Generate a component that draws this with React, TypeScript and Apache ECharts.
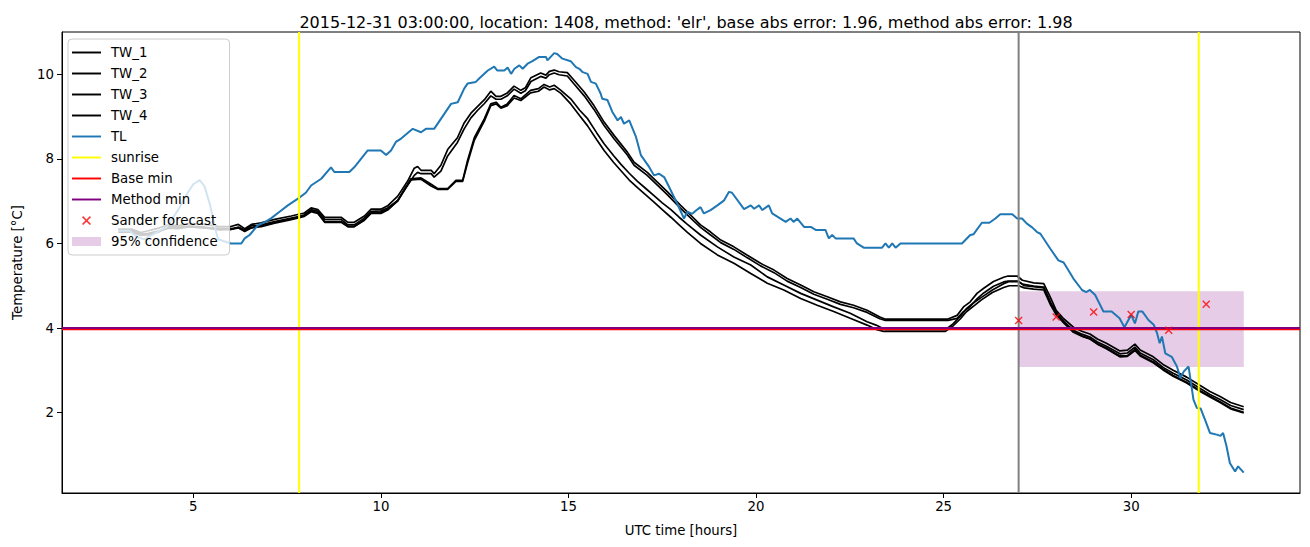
import React, { useEffect, useRef } from "react";
import * as echarts from "echarts";

const TITLE = "2015-12-31 03:00:00, location: 1408, method: 'elr', base abs error: 1.96, method abs error: 1.98";
const X_MIN = 1.5;
const X_MAX = 34.5;
const Y_MIN = 0.1;
const Y_MAX = 11.0;
const xTicks = [5, 10, 15, 20, 25, 30];
const yTicks = [2, 4, 6, 8, 10];

const TL: number[][] = [
  [3.0,6.3],[3.3,6.3],[3.5,6.15],[3.7,6.1],[4.0,6.25],[4.3,6.4],[4.6,6.8],[4.85,7.2],[5.0,7.4],[5.17,7.5],[5.3,7.35],[5.45,6.9],[5.57,6.4],[5.66,6.1],[6.0,6.0],[6.28,6.0],[6.37,6.12],[6.5,6.2],[6.72,6.43],[6.9,6.5],[7.08,6.6],[7.3,6.75],[7.52,6.9],[7.79,7.06],[8.0,7.2],[8.14,7.37],[8.41,7.53],[8.67,7.8],[8.76,7.69],[9.16,7.69],[9.29,7.8],[9.65,8.2],[10.0,8.2],[10.14,8.09],[10.27,8.2],[10.4,8.4],[10.54,8.48],[10.85,8.71],[11.07,8.63],[11.2,8.71],[11.42,8.71],[11.87,9.3],[12.05,9.34],[12.22,9.66],[12.31,9.78],[12.53,9.82],[12.62,9.9],[12.85,10.09],[13.02,10.18],[13.1,10.09],[13.29,10.09],[13.38,10.16],[13.47,10.01],[13.56,10.13],[13.69,10.21],[13.78,10.13],[13.91,10.25],[14.04,10.31],[14.22,10.41],[14.4,10.41],[14.44,10.33],[14.62,10.5],[14.7,10.48],[14.84,10.37],[15.06,10.31],[15.2,10.17],[15.29,10.13],[15.38,10.05],[15.51,10.01],[15.6,9.82],[15.73,9.78],[15.86,9.54],[15.9,9.42],[16.04,9.39],[16.17,9.11],[16.31,8.91],[16.4,8.99],[16.48,8.83],[16.62,8.91],[16.8,8.52],[16.93,8.09],[17.15,7.81],[17.28,7.61],[17.41,7.65],[17.55,7.57],[17.68,7.34],[17.9,6.94],[18.08,6.59],[18.17,6.75],[18.3,6.7],[18.4,6.78],[18.52,6.86],[18.61,6.71],[18.79,6.79],[18.97,6.9],[19.15,7.02],[19.28,7.22],[19.36,7.2],[19.68,6.81],[19.86,6.9],[19.95,6.82],[20.08,6.9],[20.17,6.79],[20.34,6.9],[20.43,6.71],[20.61,6.61],[20.79,6.51],[20.92,6.59],[21.0,6.51],[21.1,6.59],[21.28,6.39],[21.46,6.39],[21.59,6.32],[21.85,6.32],[21.94,6.12],[22.03,6.2],[22.12,6.12],[22.6,6.12],[22.69,6.0],[22.87,5.9],[23.36,5.9],[23.45,6.0],[23.54,5.9],[23.63,6.0],[23.72,5.9],[23.85,6.0],[25.49,6.0],[25.71,6.2],[25.8,6.22],[26.02,6.49],[26.22,6.49],[26.38,6.59],[26.51,6.69],[26.83,6.69],[26.96,6.59],[27.09,6.59],[27.22,6.47],[27.36,6.38],[27.49,6.27],[27.58,6.23],[27.84,5.88],[28.06,5.6],[28.2,5.55],[28.46,5.17],[28.69,4.9],[28.8,4.85],[28.9,4.9],[29.04,4.78],[29.26,4.39],[29.48,4.39],[29.69,4.23],[29.82,4.02],[30.0,4.31],[30.1,4.11],[30.19,4.39],[30.3,4.39],[30.46,4.19],[30.6,4.08],[30.69,3.88],[30.76,3.64],[30.82,3.8],[30.91,3.4],[31.08,3.32],[31.22,3.09],[31.31,2.82],[31.4,2.97],[31.53,3.09],[31.66,2.31],[31.75,2.11],[31.85,2.1],[31.97,1.83],[32.1,1.52],[32.28,1.48],[32.38,1.45],[32.45,1.52],[32.54,1.21],[32.63,0.81],[32.77,0.61],[32.85,0.73],[33.0,0.58]
];

const TW_1: number[][] = [
  [3.0,6.34],[3.35,6.34],[3.6,6.26],[3.8,6.3],[4.1,6.37],[4.33,6.44],[4.6,6.42],[4.9,6.47],[5.3,6.45],[5.7,6.4],[6.0,6.4],[6.2,6.45],[6.37,6.35],[6.55,6.45],[6.81,6.49],[7.17,6.57],[7.61,6.65],[7.96,6.72],[8.14,6.84],[8.32,6.8],[8.5,6.62],[8.94,6.62],[9.12,6.5],[9.29,6.5],[9.56,6.65],[9.74,6.81],[10.0,6.81],[10.18,6.89],[10.45,7.12],[10.71,7.47],[10.89,7.78],[10.98,7.82],[11.07,7.73],[11.34,7.73],[11.42,7.65],[11.6,7.85],[11.78,8.22],[12.04,8.5],[12.22,8.85],[12.4,9.08],[12.58,9.24],[12.76,9.4],[12.93,9.6],[13.07,9.48],[13.2,9.48],[13.37,9.56],[13.55,9.72],[13.73,9.62],[13.85,9.68],[14.0,9.92],[14.26,10.03],[14.4,9.98],[14.49,10.07],[14.62,10.1],[14.75,10.06],[14.97,10.04],[15.15,9.86],[15.42,9.58],[15.68,9.26],[15.95,8.87],[16.22,8.55],[16.57,8.16],[16.75,7.92],[17.1,7.68],[17.37,7.45],[17.64,7.22],[17.99,6.9],[18.35,6.59],[18.52,6.44],[18.79,6.27],[19.06,6.08],[19.41,5.92],[19.77,5.72],[20.12,5.53],[20.48,5.37],[20.83,5.17],[21.19,5.02],[21.54,4.86],[21.9,4.74],[22.25,4.62],[22.6,4.54],[22.96,4.42],[23.3,4.26],[23.45,4.21],[25.1,4.21],[25.36,4.3],[25.53,4.5],[25.71,4.62],[25.89,4.82],[26.07,4.94],[26.33,5.1],[26.6,5.2],[26.72,5.23],[26.96,5.23],[27.1,5.13],[27.4,5.07],[27.67,5.05],[27.85,4.72],[28.0,4.42],[28.2,4.22],[28.46,4.02],[28.7,3.92],[28.9,3.86],[29.1,3.74],[29.34,3.64],[29.7,3.46],[29.9,3.48],[30.1,3.62],[30.24,3.48],[30.59,3.32],[30.85,3.14],[31.12,3.0],[31.48,2.84],[31.84,2.64],[32.1,2.5],[32.37,2.38],[32.65,2.24],[33.0,2.14]
];

const TW_2: number[][] = [
  [3.0,6.27],[3.35,6.27],[3.6,6.19],[3.8,6.21],[4.1,6.29],[4.33,6.36],[4.6,6.35],[4.9,6.39],[5.3,6.37],[5.7,6.32],[6.0,6.33],[6.2,6.37],[6.37,6.28],[6.55,6.37],[6.81,6.4],[7.17,6.48],[7.61,6.56],[7.96,6.64],[8.14,6.75],[8.32,6.71],[8.5,6.52],[8.94,6.52],[9.12,6.4],[9.29,6.4],[9.56,6.56],[9.74,6.71],[10.0,6.71],[10.18,6.79],[10.45,7.02],[10.71,7.37],[10.89,7.61],[10.98,7.68],[11.07,7.65],[11.34,7.65],[11.42,7.57],[11.6,7.71],[11.78,8.07],[12.04,8.39],[12.22,8.71],[12.4,8.97],[12.58,9.15],[12.76,9.31],[12.93,9.49],[13.07,9.41],[13.2,9.41],[13.37,9.49],[13.55,9.65],[13.73,9.55],[13.85,9.61],[14.0,9.83],[14.26,9.95],[14.4,9.91],[14.49,9.99],[14.62,10.03],[14.75,9.99],[14.97,9.96],[15.15,9.77],[15.42,9.49],[15.68,9.17],[15.95,8.79],[16.22,8.47],[16.57,8.09],[16.75,7.85],[17.1,7.61],[17.37,7.38],[17.64,7.15],[17.99,6.83],[18.35,6.52],[18.52,6.38],[18.79,6.2],[19.06,6.02],[19.41,5.86],[19.77,5.66],[20.12,5.47],[20.48,5.31],[20.83,5.11],[21.19,4.96],[21.54,4.8],[21.9,4.68],[22.25,4.56],[22.6,4.48],[22.96,4.37],[23.3,4.22],[23.45,4.18],[25.12,4.18],[25.36,4.23],[25.53,4.39],[25.71,4.51],[25.89,4.69],[26.07,4.83],[26.33,4.99],[26.6,5.09],[26.72,5.11],[26.96,5.11],[27.1,5.04],[27.4,4.99],[27.67,4.97],[27.85,4.61],[28.0,4.33],[28.2,4.15],[28.46,3.95],[28.7,3.85],[28.9,3.79],[29.1,3.67],[29.34,3.57],[29.7,3.39],[29.9,3.41],[30.1,3.55],[30.24,3.41],[30.59,3.25],[30.85,3.07],[31.12,2.93],[31.48,2.77],[31.84,2.57],[32.1,2.43],[32.37,2.31],[32.65,2.17],[33.0,2.07]
];

const TW_3: number[][] = [
  [3.0,6.32],[3.35,6.32],[3.6,6.24],[3.8,6.2],[4.1,6.28],[4.33,6.4],[4.6,6.39],[4.9,6.4],[5.3,6.37],[5.7,6.36],[6.0,6.35],[6.2,6.37],[6.37,6.3],[6.55,6.37],[6.81,6.44],[7.17,6.52],[7.61,6.6],[7.96,6.66],[8.14,6.77],[8.32,6.72],[8.5,6.5],[8.94,6.5],[9.12,6.4],[9.29,6.4],[9.56,6.55],[9.74,6.73],[10.0,6.74],[10.18,6.8],[10.45,7.0],[10.65,7.3],[10.8,7.53],[11.07,7.55],[11.34,7.4],[11.51,7.3],[11.78,7.3],[12.0,7.49],[12.18,7.49],[12.31,7.96],[12.49,8.5],[12.76,8.95],[12.93,9.3],[13.07,9.34],[13.2,9.22],[13.37,9.3],[13.55,9.5],[13.73,9.42],[13.99,9.62],[14.2,9.66],[14.35,9.76],[14.5,9.7],[14.62,9.74],[14.8,9.62],[15.06,9.42],[15.3,9.15],[15.51,8.95],[15.75,8.62],[15.95,8.36],[16.2,8.08],[16.4,7.87],[16.62,7.66],[16.84,7.47],[17.06,7.3],[17.28,7.13],[17.5,6.96],[17.73,6.8],[17.95,6.62],[18.17,6.45],[18.52,6.2],[18.97,5.92],[19.41,5.68],[19.86,5.49],[20.3,5.21],[20.74,5.02],[21.19,4.82],[21.63,4.66],[22.07,4.5],[22.51,4.35],[22.96,4.15],[23.2,4.07],[23.45,3.96],[25.05,3.96],[25.25,4.1],[25.45,4.28],[25.6,4.45],[25.8,4.6],[26.0,4.72],[26.3,4.9],[26.6,5.05],[26.75,5.1],[27.0,5.1],[27.15,5.0],[27.4,4.98],[27.67,4.95],[27.85,4.6],[28.0,4.38],[28.2,4.16],[28.46,3.92],[28.7,3.81],[28.9,3.75],[29.1,3.63],[29.34,3.53],[29.7,3.34],[29.9,3.35],[30.1,3.5],[30.24,3.36],[30.59,3.2],[30.85,3.03],[31.12,2.88],[31.48,2.72],[31.84,2.52],[32.1,2.39],[32.37,2.26],[32.65,2.11],[33.0,2.01]
];

const TW_4: number[][] = [
  [3.0,6.3],[3.35,6.3],[3.6,6.22],[3.8,6.24],[4.1,6.3],[4.33,6.38],[4.6,6.37],[4.9,6.41],[5.3,6.39],[5.7,6.34],[6.0,6.33],[6.2,6.39],[6.37,6.32],[6.55,6.42],[6.81,6.42],[7.17,6.5],[7.61,6.58],[7.96,6.68],[8.14,6.8],[8.32,6.76],[8.5,6.57],[8.94,6.57],[9.12,6.44],[9.29,6.44],[9.56,6.6],[9.74,6.76],[10.0,6.77],[10.18,6.84],[10.45,7.02],[10.65,7.32],[10.8,7.5],[11.07,7.52],[11.34,7.36],[11.51,7.28],[11.78,7.28],[12.0,7.47],[12.18,7.47],[12.31,7.9],[12.49,8.44],[12.76,8.9],[12.93,9.26],[13.07,9.3],[13.2,9.2],[13.37,9.26],[13.55,9.44],[13.73,9.38],[13.99,9.56],[14.2,9.6],[14.35,9.7],[14.5,9.63],[14.62,9.66],[14.8,9.55],[15.06,9.3],[15.3,9.02],[15.51,8.78],[15.75,8.46],[15.95,8.2],[16.2,7.92],[16.4,7.72],[16.62,7.5],[16.84,7.32],[17.06,7.15],[17.28,6.98],[17.5,6.8],[17.73,6.62],[17.95,6.44],[18.17,6.26],[18.52,6.0],[18.97,5.73],[19.41,5.53],[19.86,5.29],[20.3,5.06],[20.74,4.9],[21.19,4.7],[21.63,4.54],[22.07,4.39],[22.51,4.23],[22.96,4.07],[23.2,3.97],[23.4,3.92],[25.05,3.92],[25.25,4.05],[25.45,4.22],[25.6,4.38],[25.8,4.52],[26.0,4.66],[26.3,4.84],[26.6,4.96],[26.75,5.0],[27.0,5.0],[27.15,4.95],[27.4,4.92],[27.67,4.9],[27.85,4.55],[28.0,4.32],[28.2,4.12],[28.46,3.9],[28.7,3.8],[28.9,3.74],[29.1,3.62],[29.34,3.51],[29.7,3.32],[29.9,3.33],[30.1,3.47],[30.24,3.34],[30.59,3.18],[30.85,3.01],[31.12,2.86],[31.48,2.7],[31.84,2.5],[32.1,2.37],[32.37,2.24],[32.65,2.09],[33.0,1.99]
];

const sunriseHours = [7.82, 31.8];
const currentHour = 27;
const baseMin = 3.97;
const methodMin = 4.0;
const sanderHours = [27, 28, 29, 30, 31, 32];
const sanderValues = [4.18, 4.26, 4.38, 4.32, 3.95, 4.56];
const confidenceHours = [27, 33];
const confidenceRange = [3.08, 4.87];

const FONT = "DejaVu Sans";
const LINE_ICON = "path://M0,0H30V2H0Z";
const X_PATH = "path://M0,1L1,0L4,3L7,0L8,1L5,4L8,7L7,8L4,5L1,8L0,7L3,4Z";

function vline(x: number) {
  return [[x, Y_MIN], [x, Y_MAX]];
}

export default function App() {
  const ref = useRef<HTMLDivElement>(null);
  useEffect(() => {
    if (!ref.current) return;
    const chart = echarts.init(ref.current, undefined, { renderer: "svg" });
    const lineSeries = (name: string, data: any[], color: string, width = 2, z = 2) => ({
      name,
      type: "line",
      data,
      symbol: "none",
      showSymbol: false,
      color,
      lineStyle: { color, width },
      z,
      silent: true,
      clip: true,
    });
    const sunriseData: any[] = [];
    sunriseHours.forEach((h, i) => {
      if (i > 0) sunriseData.push(["-", "-"]);
      sunriseData.push(...vline(h));
    });
    const option: any = {
      animation: false,
      backgroundColor: "#ffffff",
      textStyle: { fontFamily: FONT },
      title: {
        text: TITLE,
        left: 681,
        textAlign: "center",
        top: 9,
        textStyle: { fontFamily: FONT, fontSize: 16, fontWeight: "normal", color: "#000" },
      },
      grid: {
        left: 62,
        right: 10,
        top: 32,
        bottom: 54,
        show: true,
        borderColor: "#000",
        borderWidth: 1,
        backgroundColor: "transparent",
      },
      legend: {
        orient: "vertical",
        left: 68,
        top: 39,
        itemWidth: 29,
        itemHeight: 9,
        itemGap: 8,
        padding: [7, 12, 7, 4],
        backgroundColor: "rgba(255,255,255,0.8)",
        borderColor: "#cccccc",
        borderWidth: 1,
        borderRadius: 4,
        symbolKeepAspect: true,
        textStyle: { fontFamily: FONT, fontSize: 13.3, color: "#000", padding: [0, 0, 0, 5] },
        data: [
          { name: "TW_1", icon: LINE_ICON },
          { name: "TW_2", icon: LINE_ICON },
          { name: "TW_3", icon: LINE_ICON },
          { name: "TW_4", icon: LINE_ICON },
          { name: "TL", icon: LINE_ICON },
          { name: "sunrise", icon: LINE_ICON },
          { name: "Base min", icon: LINE_ICON },
          { name: "Method min", icon: LINE_ICON },
          { name: "Sander forecast", icon: X_PATH },
          { name: "95% confidence", icon: "rect" },
        ],
      },
      xAxis: {
        type: "value",
        min: X_MIN,
        max: X_MAX,
        name: "UTC time [hours]",
        nameLocation: "middle",
        nameGap: 31,
        nameTextStyle: { fontFamily: FONT, fontSize: 13.3, color: "#000" },
        splitLine: { show: false },
        axisLine: { show: true, onZero: false, lineStyle: { color: "#000", width: 1 } },
        axisTick: { show: true, length: 5, lineStyle: { color: "#000" }, customValues: xTicks },
        axisLabel: { fontFamily: FONT, fontSize: 13.3, color: "#000", margin: 7, customValues: xTicks },
      },
      yAxis: {
        type: "value",
        min: Y_MIN,
        max: Y_MAX,
        name: "Temperature [°C]",
        nameLocation: "middle",
        nameRotate: 90,
        nameGap: 38,
        nameTextStyle: { fontFamily: FONT, fontSize: 13.3, color: "#000" },
        splitLine: { show: false },
        axisLine: { show: true, onZero: false, lineStyle: { color: "#000", width: 1 } },
        axisTick: { show: true, length: 5, lineStyle: { color: "#000" }, customValues: yTicks },
        axisLabel: { fontFamily: FONT, fontSize: 13.3, color: "#000", margin: 8, customValues: yTicks },
      },
      series: [
        {
          name: "95% confidence",
          type: "custom",
          z: 1,
          silent: true,
          itemStyle: { color: "rgba(128,0,128,0.2)" },
          color: "rgba(128,0,128,0.2)",
          data: [[confidenceHours[0], confidenceHours[1], confidenceRange[0], confidenceRange[1]]],
          renderItem: (params: any, api: any) => {
            const p1 = api.coord([api.value(0), api.value(3)]);
            const p2 = api.coord([api.value(1), api.value(2)]);
            return {
              type: "rect",
              shape: { x: p1[0], y: p1[1], width: p2[0] - p1[0], height: p2[1] - p1[1] },
              style: { fill: "rgba(128,0,128,0.2)" },
            };
          },
        },
        lineSeries("TW_1", TW_1, "#000000", 1.7),
        lineSeries("TW_2", TW_2, "#000000", 1.7),
        lineSeries("TW_3", TW_3, "#000000", 1.7),
        lineSeries("TW_4", TW_4, "#000000", 1.7),
        lineSeries("TL", TL, "#1f77b4"),
        lineSeries("now", vline(currentHour), "#808080"),
        { ...lineSeries("sunrise", sunriseData, "#ffff00"), connectNulls: false },
        lineSeries("Base min", [[X_MIN, baseMin], [X_MAX, baseMin]], "#ff0000"),
        lineSeries("Method min", [[X_MIN, methodMin], [X_MAX, methodMin]], "#800080"),
        {
          name: "Sander forecast",
          type: "scatter",
          symbol: X_PATH,
          symbolSize: 8,
          color: "#ff0000",
          itemStyle: { color: "#ff0000" },
          z: 3,
          silent: true,
          data: sanderHours.map((h, i) => [h, sanderValues[i]]),
        },
      ],
    };
    chart.setOption(option);
    return () => chart.dispose();
  }, []);
  return (
    <div
      ref={ref}
      style={{ position: "fixed", left: 0, top: 0, width: 1310, height: 547, background: "#fff" }}
    />
  );
}
